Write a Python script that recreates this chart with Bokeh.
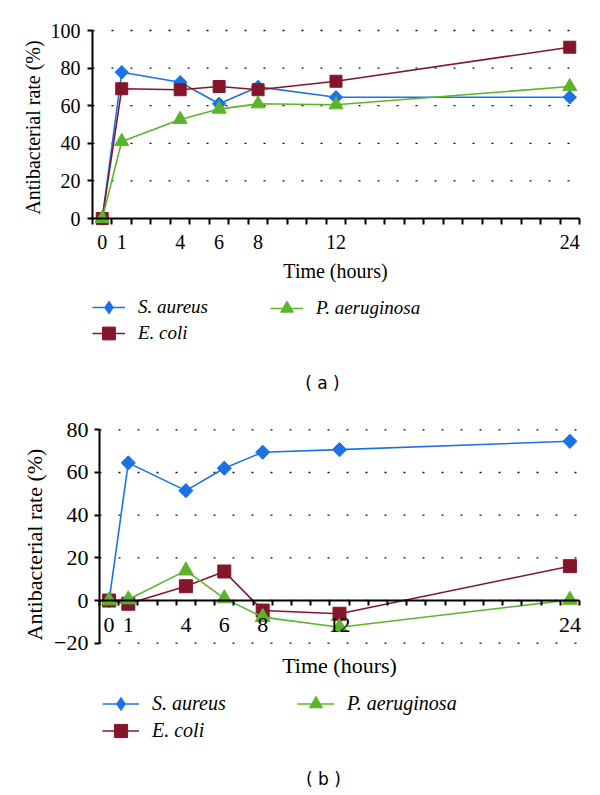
import math
from bokeh.plotting import figure
from bokeh.models import Range1d, LinearAxis, FixedTicker, Label, Legend, LegendItem
from bokeh.layouts import column
from bokeh.embed import file_html
from bokeh.resources import INLINE

# ---------------- data ----------------
hours = [0, 1, 4, 6, 8, 12, 24]
hour_labels = ["0", "1", "4", "6", "8", "12", "24"]
series_names = ["S. aureus", "E. coli", "P. aeruginosa"]

a_s_aureus = [0, 77.8, 72.5, 61.0, 70.0, 64.5, 64.5]
a_e_coli = [0, 69.0, 68.5, 70.2, 68.5, 73.0, 91.1]
a_p_aeruginosa = [0, 41.0, 52.7, 58.2, 61.0, 60.5, 70.2]

b_s_aureus = [0, 64.5, 51.5, 62.0, 69.5, 70.7, 74.6]
b_e_coli = [0, -1.5, 6.7, 13.6, -4.7, -6.2, 16.1]
b_p_aeruginosa = [0, 0.5, 14.0, 1.0, -7.8, -12.5, 0.3]

y_ticks_a = [0, 20, 40, 60, 80, 100]
y_ticks_b = [-20, 0, 20, 40, 60, 80]
panel_labels = ["( a )", "( b )"]
x_title = "Time (hours)"
y_title = "Antibacterial rate (%)"

COLORS = ["#1a73e6", "#84162c", "#5bb52a"]
MARKERS = ["square", "square", "triangle"]
LEGEND_MARKERS = ["diamond", None, None]
ANGLES = [math.pi / 4, 0, 0]
SERIF = "Liberation Serif"
W = 600


def make_panel(values, yticks, grid_ticks, ybounds, H, fig_top,
               ax_left, ax_right, yv_top, yv_bot, yval_top, yval_bot,
               fs, lfs, msizes, tick_len, xlab_standoff, ylab_standoff,
               ytitle_ref, xtitle_ref, leg_pos, leg_glyph_w, leg_glyph_h,
               cap_ref, cap_text):
    # pixel -> data mapping, the frame covers the whole figure
    lx, rx = ax_left, ax_right
    upx = 25.0 / (rx - lx)
    xs = -0.5 - lx * upx
    xe = 24.5 + (W - rx) * upx
    ty, by = yv_top - fig_top, yv_bot - fig_top
    upy = (yval_top - yval_bot) / (by - ty)
    ye = yval_top + ty * upy
    ys = yval_bot - (H - by) * upy

    p = figure(width=W, height=H, x_range=Range1d(xs, xe), y_range=Range1d(ys, ye),
               output_backend="svg", toolbar_location=None,
               x_axis_location=None, y_axis_location=None,
               min_border=0, min_border_left=0, min_border_right=0,
               min_border_top=0, min_border_bottom=0)
    p.outline_line_color = None
    p.background_fill_color = "white"
    p.border_fill_color = "white"
    p.xgrid.visible = False
    p.ygrid.visible = False

    def dx(rxp):
        return xs + rxp * upx

    def dy(ryp):
        return ye - (ryp - fig_top) * upy

    # dotted horizontal grid lines, only across the plot area
    n = len(grid_ticks)
    p.segment(x0=[-0.5] * n, y0=grid_ticks, x1=[24.5] * n, y1=grid_ticks,
              line_color="#111111", line_dash="2 17", line_width=1.3)

    # y axis at x = -0.5
    ya = LinearAxis(fixed_location=-0.5, bounds=ybounds,
                    ticker=FixedTicker(ticks=yticks),
                    major_label_overrides={t: (("\u2212" + str(-t)) if t < 0 else str(t)) for t in yticks},
                    axis_line_width=2, axis_line_color="black",
                    major_tick_out=5, major_tick_in=0, major_tick_line_width=2,
                    minor_tick_out=0, minor_tick_in=0,
                    major_label_standoff=ylab_standoff,
                    major_label_text_font=SERIF,
                    major_label_text_font_size=f"{fs}px",
                    major_label_text_color="black")
    p.add_layout(ya, "left")

    # x axis at y = 0
    minor = [h - 0.5 for h in range(26)]
    xa = LinearAxis(fixed_location=0, bounds=(-0.5, 24.5),
                    ticker=FixedTicker(ticks=hours, minor_ticks=minor),
                    major_label_overrides={h: s for h, s in zip(hours, hour_labels)},
                    axis_line_width=2, axis_line_color="black",
                    major_tick_out=0, major_tick_in=0,
                    minor_tick_out=tick_len, minor_tick_in=0,
                    minor_tick_line_width=2, minor_tick_line_color="black",
                    major_label_standoff=xlab_standoff,
                    major_label_text_font=SERIF,
                    major_label_text_font_size=f"{fs}px",
                    major_label_text_color="black")
    p.add_layout(xa, "below")

    rends = []
    for i, vals in enumerate(values):
        l = p.line(hours, vals, line_color=COLORS[i], line_width=1.6)
        leg_m = None
        if LEGEND_MARKERS[i] is not None:
            # diamond drawn underneath (fully covered), used for the legend symbol
            leg_m = p.scatter(hours, vals, marker=LEGEND_MARKERS[i], size=msizes[i] * 1.3,
                              fill_color=COLORS[i], line_color=COLORS[i])
        m = p.scatter(hours, vals, marker=MARKERS[i], size=msizes[i], angle=ANGLES[i],
                      fill_color=COLORS[i], line_color=COLORS[i])
        rends.append([l, leg_m if leg_m is not None else m])

    # titles
    p.add_layout(Label(x=dx(ytitle_ref[0]), y=dy(ytitle_ref[1]), text=y_title, angle=math.pi / 2,
                       text_align="center", text_baseline="middle", text_font=SERIF,
                       text_font_size=f"{fs}px", text_color="black"))
    p.add_layout(Label(x=dx(xtitle_ref[0]), y=dy(xtitle_ref[1]), text=x_title,
                       text_align="center", text_baseline="middle", text_font=SERIF,
                       text_font_size=f"{fs}px", text_color="black"))
    p.add_layout(Label(x=dx(cap_ref[0]), y=dy(cap_ref[1]), text=cap_text,
                       text_align="center", text_baseline="middle", text_font="DejaVu Sans",
                       text_font_size="17px", text_color="black"))

    for i in range(3):
        ref_x, row = leg_pos[i]
        bottom = row + leg_glyph_h / 2 - fig_top
        lg = Legend(items=[LegendItem(label=series_names[i], renderers=rends[i])],
                    location=(ref_x, H - bottom),
                    orientation="vertical", border_line_color=None,
                    background_fill_alpha=0, padding=0, margin=0,
                    spacing=0, glyph_width=leg_glyph_w, glyph_height=leg_glyph_h,
                    label_height=leg_glyph_h, label_standoff=13,
                    label_text_font=SERIF, label_text_font_style="italic",
                    label_text_font_size=f"{lfs}px", label_text_color="black")
        p.add_layout(lg)
    return p


pa = make_panel([a_s_aureus, a_e_coli, a_p_aeruginosa], y_ticks_a, y_ticks_a[1:], (0, 100),
                398, 0, 92, 579, 30, 218, 100, 0,
                20, 19, [9.5, 12, 14], 6, 10, 7,
                (32.5, 127), (335, 270),
                [(92, 307), (92, 333), (270, 308)], 33, 32, (322, 382), panel_labels[0])

pb = make_panel([b_s_aureus, b_e_coli, b_p_aeruginosa], y_ticks_b, y_ticks_b, (-20, 80),
                397, 398, 99, 579, 429.3, 642.7, 80, -20,
                22, 20, [10, 13, 15], 5, 12, 6,
                (33.5, 544), (339, 665),
                [(102, 703), (102, 730), (297, 703)], 37, 33, (323, 778), panel_labels[1])

layout = column(pa, pb, spacing=0)
open("out.html", "w").write(file_html(layout, INLINE))
